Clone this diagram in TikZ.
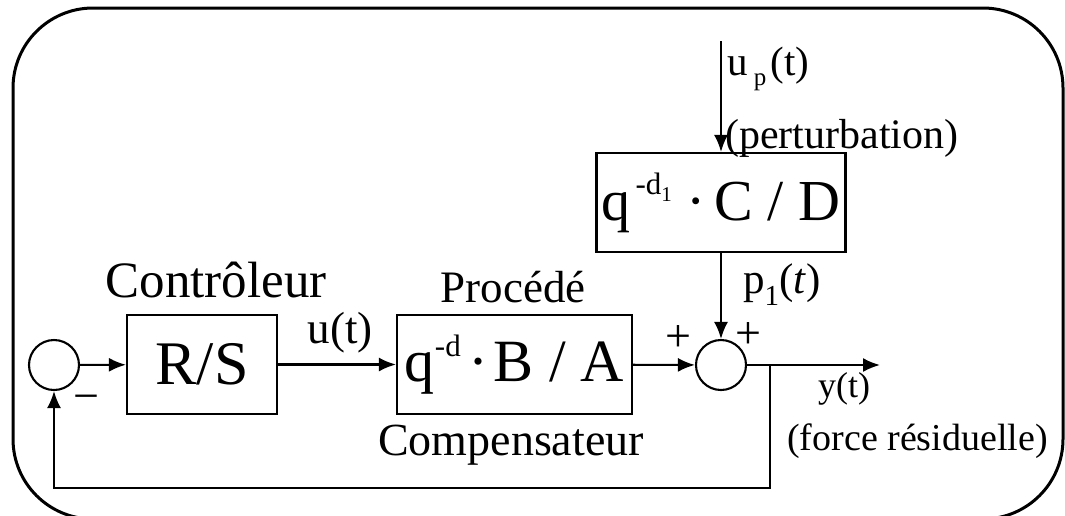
\documentclass[tikz,border=0pt]{standalone}
\usepackage{fontspec}
\setmainfont{Liberation Serif}
\usetikzlibrary{arrows.meta}
\newcommand{\fs}[1]{\fontsize{#1}{#1}\selectfont}

\begin{document}
\begin{tikzpicture}[x=1pt, y=-1pt, >={Latex[length=17pt,width=14pt]},
    bloc/.style={draw, line width=2.1pt, inner sep=0pt, minimum height=99pt},
    sommateur/.style={draw, circle, line width=2.1pt, minimum size=50pt, inner sep=0pt},
    fleche/.style={->, line width=2.1pt},
    etiquette/.style={inner sep=0pt}]
    \useasboundingbox (0,0) rectangle (1065,515);
    \clip (0,0) rectangle (1065,515);

    % 1. Cadre arrondi
    \draw[line width=3pt, rounded corners=80pt] (13,8) rectangle (1063,519);

    % 2. Blocs et sommateurs
    \node[sommateur] (som1) at (54,365) {};
    \node[bloc, minimum width=150pt] (regul) at (202,364.5) {\fs{62}R/S};
    \node[bloc, minimum width=235pt] (proc) at (514.5,364.5)
        {\fs{60}q\raisebox{0.42em}{\fs{31}-d}\hspace{0.12em}·\hspace{0.1em}B / A};
    \node[sommateur] (som2) at (721,365) {};
    \node[bloc, minimum width=249pt] (perturb) at (721,202.5)
        {\fs{58}q\hspace{0.08em}\raisebox{0.45em}{\fs{31}-d\raisebox{-0.25em}{\fs{21}1}}\hspace{0.25em}·\hspace{0.15em}C / D};

    % 3. Points libres
    \coordinate (entree) at (721,41);
    \coordinate (sortie) at (880,365);
    \coordinate (branche) at (770,365);
    \coordinate (retour) at (770,488);

    % 4. Liaisons
    \draw[fleche] (som1) -- (regul);
    \draw[fleche] (regul) -- (proc);
    \draw[fleche] (proc) -- (som2);
    \draw[fleche] (entree) -- (perturb);
    \draw[fleche] (perturb) -- (som2);
    \draw[fleche] (som2) -- (sortie);
    \draw[fleche] (branche) -- (retour) -| (som1);

    % 5. Textes
    \node[etiquette, anchor=base] (lregul) at (216,297) {\fs{51}Contrôleur};
    \node[etiquette, anchor=base] (lu) at (340,343) {\fs{45}u(t)};
    \node[etiquette, anchor=base] (lproc) at (513,302) {\fs{45}Procédé};
    \node[etiquette, anchor=base] (lcomp) at (511,455) {\fs{46}Compensateur};
    \node[etiquette, anchor=base west] (lup) at (727,75)
        {\fs{41}u\hspace{0.15em}\raisebox{-10pt}{\fs{25}p}\hspace{0.1em}(t)};
    \node[etiquette, anchor=base west] (lpert) at (725,148) {\fs{42}(perturbation)};
    \node[etiquette, anchor=base west] (lp) at (743,293)
        {\fs{43}p\raisebox{-12pt}{\fs{29}1}(\textit{t})};
    \node[etiquette, anchor=base west] (ly) at (818,397) {\fs{36}y(t)};
    \node[etiquette, anchor=base west] (lforce) at (787,450) {\fs{38}(force résiduelle)};
    \node[etiquette] (plus1) at (678,338) {\fs{46}+};
    \node[etiquette] (plus2) at (748,335) {\fs{46}+};
    \node[etiquette] (moins) at (86,403) {\fs{46}−};
\end{tikzpicture}
\end{document}
